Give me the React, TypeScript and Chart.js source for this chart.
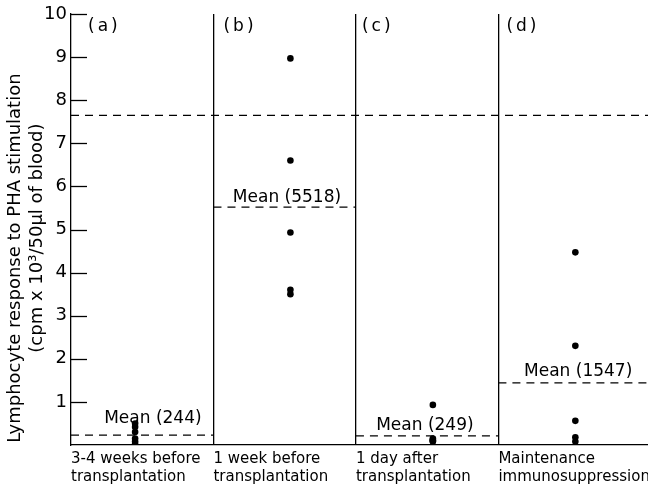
import React, { useEffect, useRef } from "react";
import { Chart, registerables } from "chart.js";

Chart.register(...registerables);

// ---- data ----
const categories: string[][] = [
  ["3-4 weeks before", "transplantation"],
  ["1 week before", "transplantation"],
  ["1 day after", "transplantation"],
  ["Maintenance", "immunosuppression"],
];
const panelLabels = ["(a)", "(b)", "(c)", "(d)"];
const panelA = [0.5, 0.42, 0.3, 0.15, 0.08, 0.02];
const panelB = [8.97, 6.6, 4.93, 3.6, 3.5];
const panelC = [0.93, 0.15, 0.12, 0.1, 0.1, 0.08];
const panelD = [4.47, 2.3, 0.56, 0.18, 0.08];
const panelX = [0.45, 1.54, 2.54, 3.54];
const meanValues = [0.23, 5.52, 0.21, 1.44];
const meanLabels = ["Mean (244)", "Mean (5518)", "Mean (249)", "Mean (1547)"];
const upperLine = 7.65;
const yTickValues = [1, 2, 3, 4, 5, 6, 7, 8, 9, 10];
const yTitle = [
  "Lymphocyte response to PHA stimulation          ",
  "(cpm x 10³/50μl of blood)   ",
];

// ---- layout / style (not data) ----
const FONT = "'DejaVu Sans', sans-serif";
const X_MAX = 4.05;
const meanLabelX = [0.575, 1.516, 2.484, 3.56];
const meanLabelGap = [12, 5, 6, 7];
const panelLabelOffset = [17, 10, 6, 8];

const overlay = {
  id: "overlay",
  afterDraw(chart: any) {
    const { ctx, chartArea, scales } = chart;
    const x = scales.x;
    const y = scales.y;
    ctx.save();
    ctx.strokeStyle = "#000";
    ctx.lineWidth = 1.3;
    yTickValues.forEach((v) => {
      const py = Math.round(y.getPixelForValue(v)) + 0.5;
      ctx.beginPath();
      ctx.moveTo(chartArea.left, py);
      ctx.lineTo(chartArea.left + 16, py);
      ctx.stroke();
    });
    ctx.fillStyle = "#000";
    ctx.font = `17px ${FONT}`;
    ctx.textAlign = "center";
    ctx.textBaseline = "alphabetic";
    meanLabels.forEach((t, i) => {
      ctx.fillText(
        t,
        x.getPixelForValue(meanLabelX[i]),
        y.getPixelForValue(meanValues[i]) - meanLabelGap[i]
      );
    });
    ctx.textAlign = "left";
    ctx.textBaseline = "middle";
    ctx.font = `17px ${FONT}`;
    (ctx as any).letterSpacing = "3px";
    panelLabels.forEach((t, i) => {
      ctx.fillText(t, x.getPixelForValue(i) + panelLabelOffset[i], chartArea.top + 13);
    });
    (ctx as any).letterSpacing = "0px";
    ctx.restore();
  },
};

const dashed = {
  borderColor: "#000",
  borderWidth: 1.3,
  borderDash: [8, 6],
  pointRadius: 0,
  showLine: true,
  fill: false,
};

export default function App() {
  const ref = useRef<HTMLCanvasElement | null>(null);
  useEffect(() => {
    if (!ref.current) return;
    const groups = [panelA, panelB, panelC, panelD];
    const points = groups.flatMap((arr, i) => arr.map((v) => ({ x: panelX[i], y: v })));
    const meanSets = meanValues.map((m, i) => ({
      ...dashed,
      data: [
        { x: i, y: m },
        { x: i === 3 ? X_MAX : i + 1, y: m },
      ],
    }));
    const chart = new Chart(ref.current, {
      type: "scatter",
      data: {
        datasets: [
          {
            ...dashed,
            data: [
              { x: 0, y: upperLine },
              { x: X_MAX, y: upperLine },
            ],
          },
          ...meanSets,
          {
            data: points,
            backgroundColor: "#000",
            borderWidth: 0,
            pointRadius: 3.3,
            showLine: false,
          },
        ] as any,
      },
      plugins: [overlay],
      options: {
        animation: false,
        responsive: false,
        events: [],
        layout: { autoPadding: false, padding: { top: 14, right: 0, left: 0, bottom: 0 } },
        plugins: { legend: { display: false }, tooltip: { enabled: false } },
        scales: {
          x: {
            type: "linear",
            min: 0,
            max: X_MAX,
            afterBuildTicks: (s: any) => {
              s.ticks = [0, 1, 2, 3].map((v) => ({ value: v }));
            },
            afterFit: (s: any) => {
              s.height = 46;
              s.paddingLeft = 0;
              s.paddingRight = 0;
            },
            ticks: {
              callback: (_v: any, i: number) => categories[i],
              align: "start",
              autoSkip: false,
              maxRotation: 0,
              minRotation: 0,
              padding: 5,
              color: "#000",
              font: { family: FONT, size: 15, lineHeight: 1.2 },
            },
            grid: {
              color: (c: any) => (c.tick && c.tick.value === 0 ? "rgba(0,0,0,0)" : "#000"),
              lineWidth: 1.3,
              drawTicks: false,
              drawOnChartArea: true,
            },
            border: { display: true, color: "#000", width: 1.3 },
          },
          y: {
            type: "linear",
            min: 0,
            max: 10,
            afterFit: (s: any) => {
              s.width = 71;
              s.paddingTop = 0;
            },
            ticks: {
              stepSize: 1,
              callback: (v: any) => (v === 0 ? "" : String(v)),
              padding: 4,
              color: "#000",
              font: { family: FONT, size: 18 },
            },
            grid: { display: false, drawTicks: false },
            border: { display: true, color: "#000", width: 1.3 },
            title: {
              display: true,
              text: yTitle,
              color: "#000",
              font: { family: FONT, size: 18, lineHeight: 1.25 },
              padding: { top: 4, bottom: 0 },
            },
          },
        },
      } as any,
    });
    return () => chart.destroy();
  }, []);
  return (
    <div style={{ position: "absolute", left: 0, top: 0, width: 648, height: 491, background: "#fff" }}>
      <canvas ref={ref} width={648} height={491} style={{ display: "block" }} />
    </div>
  );
}
